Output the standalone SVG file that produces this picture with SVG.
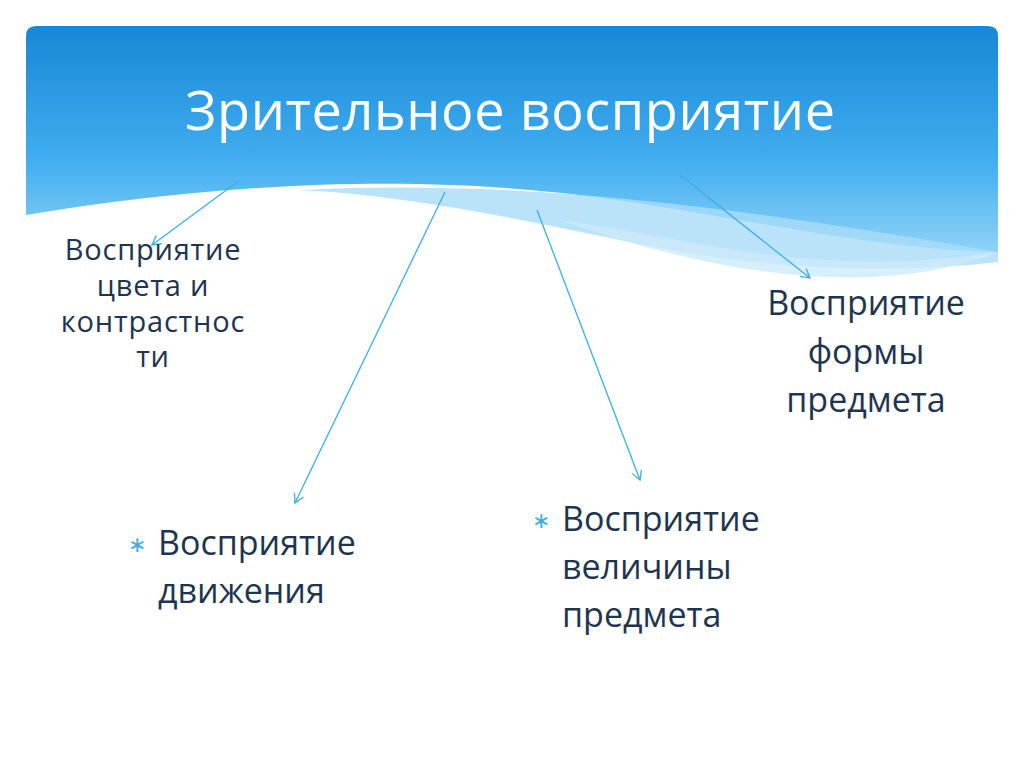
<svg xmlns="http://www.w3.org/2000/svg" width="1024" height="768" viewBox="0 0 1024 768">
<defs>
<linearGradient id="g" x1="0" y1="0" x2="0" y2="1">
<stop offset="0" stop-color="#1787d6"/><stop offset="0.6" stop-color="#42aef0"/><stop offset="1" stop-color="#8fd2f7"/>
</linearGradient>
<marker id="a" markerWidth="12" markerHeight="12" refX="10" refY="6" orient="auto" markerUnits="userSpaceOnUse">
<path d="M1,1 L10,6 L1,11" fill="none" stroke="#3aaee8" stroke-width="1.3"/>
</marker>
<style>
.t{font-family:"Open Sans","Noto Sans",sans-serif;fill:#1e3550}
.c{stroke:#3aaee8;stroke-width:1.3;fill:none;marker-end:url(#a)}
</style>
</defs>
<rect width="1024" height="768" fill="#fff"/>
<g id="header">
<path d="M36,26 H988 Q998,26 998,36 V252 C900,250 800,230 650,205 C500,180 300,170 26,215 V36 Q26,26 36,26 Z" fill="url(#g)"/>
<path d="M300,190 C500,180 700,200 998,252 V262 C880,275 760,270 620,240 C500,215 400,195 300,190 Z" fill="#a9dcf8" opacity="0.8"/>
<path d="M560,220 C700,240 820,280 998,252 C900,290 760,290 560,220 Z" fill="#cdeafb" opacity="0.8"/>
<text x="510" y="130" text-anchor="middle" font-family="Open Sans, Noto Sans, sans-serif" font-size="54" fill="#fff" textLength="650">Зрительное восприятие</text>
</g>
<g id="connectors">
<line class="c" x1="240" y1="180" x2="152" y2="245"/>
<line class="c" x1="445" y1="192" x2="295" y2="503"/>
<line class="c" x1="537" y1="210" x2="640" y2="480"/>
<line class="c" x1="680" y1="175" x2="810" y2="278"/>
</g>
<g id="n1" font-size="29" text-anchor="middle" letter-spacing="0.8">
<text x="153" y="260" class="t">Восприятие</text><text x="153" y="296" class="t">цвета и</text><text x="153" y="332" class="t">контрастнос</text><text x="153" y="367" class="t">ти</text>
</g>
<g id="n2" font-size="34" text-anchor="middle">
<text x="866" y="315" class="t">Восприятие</text><text x="866" y="364" class="t">формы</text><text x="866" y="412" class="t">предмета</text>
</g>
<g id="n3" font-size="34">
<text x="128" y="552" class="t" style="fill:#3aaee8" font-size="22">∗</text>
<text x="158" y="555" class="t">Восприятие</text><text x="158" y="603" class="t">движения</text>
</g>
<g id="n4" font-size="34">
<text x="532" y="528" class="t" style="fill:#3aaee8" font-size="22">∗</text>
<text x="562" y="531" class="t">Восприятие</text><text x="562" y="579" class="t">величины</text><text x="562" y="627" class="t">предмета</text>
</g>
</svg>
